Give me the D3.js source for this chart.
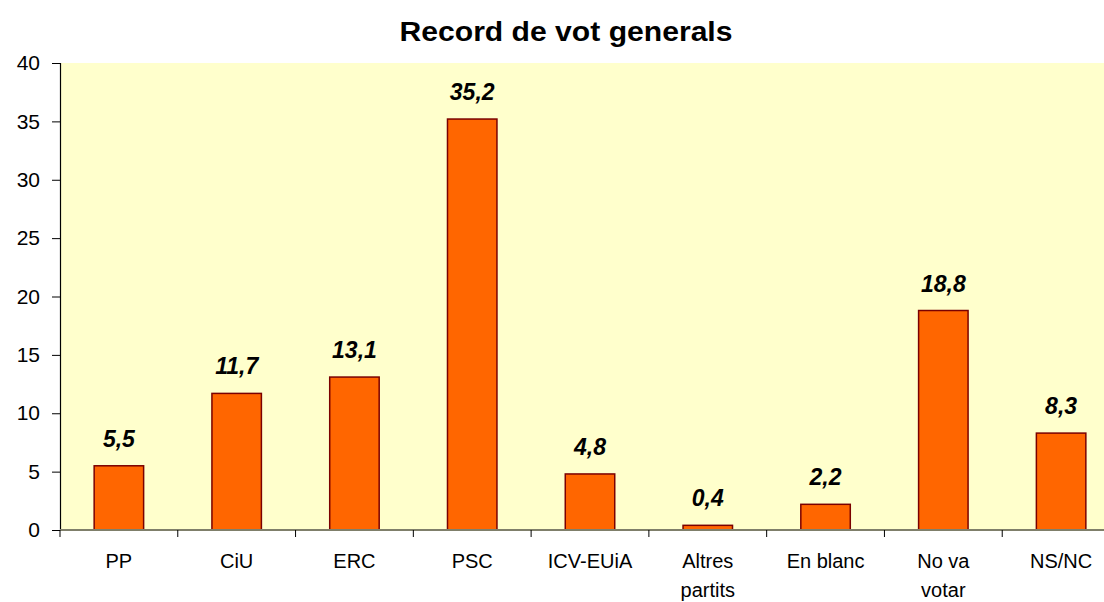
<!DOCTYPE html>
<html>
<head>
<meta charset="utf-8">
<script src="https://cdn.jsdelivr.net/npm/d3@7"></script>
<style>
	body { margin: 0; background: #fff; }
	text { font-family: Arial, "Liberation Sans", sans-serif; }
</style>
</head>
<body>
<script>
// chart values
let categories = ["PP", "CiU", "ERC", "PSC", "ICV-EUiA", "Altres partits", "En blanc", "No va votar", "NS/NC"];
let categoryLines = [["PP"], ["CiU"], ["ERC"], ["PSC"], ["ICV-EUiA"], ["Altres", "partits"], ["En blanc"], ["No va", "votar"], ["NS/NC"]];
let values = [5.5, 11.7, 13.1, 35.2, 4.8, 0.4, 2.2, 18.8, 8.3];
let yTicks = [0, 5, 10, 15, 20, 25, 30, 35, 40];
let title = "Record de vot generals";

let width = 1104;
let height = 602;
let plotLeft = 60, plotTop = 63, plotBottom = 530;
let plotRight = 1120; // plot area runs past the right edge of the picture

let svg = d3.select("body").append("svg")
	.attr("width", width)
	.attr("height", height);

let x = d3.scaleBand()
	.domain(categories)
	.range([plotLeft, plotRight])
	.paddingInner(0.58)
	.paddingOuter(0.29);

let y = d3.scaleLinear()
	.domain([0, 40])
	.range([plotBottom, plotTop]);

let caLocale = d3.formatLocale({decimal: ",", thousands: ".", grouping: [3], currency: ["", "€"]});
let fmt = caLocale.format(".1f");

// plot background
svg.append("rect")
	.attr("x", plotLeft)
	.attr("y", plotTop)
	.attr("width", plotRight - plotLeft)
	.attr("height", plotBottom - plotTop)
	.attr("fill", "#ffffcc");

// title
svg.append("text")
	.attr("x", 566)
	.attr("y", 41)
	.attr("text-anchor", "middle")
	.attr("font-size", 27)
	.attr("font-weight", "bold")
	.attr("textLength", 333)
	.attr("lengthAdjust", "spacingAndGlyphs")
	.text(title);

// bars
svg.selectAll(".bar")
	.data(values)
	.join("rect")
	.attr("class", "bar")
	.attr("x", (d, i) => x(categories[i]))
	.attr("y", d => y(d))
	.attr("width", x.bandwidth())
	.attr("height", d => y(0) - y(d))
	.attr("fill", "#ff6600")
	.attr("stroke", "#7a0000")
	.attr("stroke-width", 1.5);

// value labels
svg.selectAll(".vlabel")
	.data(values)
	.join("text")
	.attr("class", "vlabel")
	.attr("x", (d, i) => x(categories[i]) + x.bandwidth() / 2)
	.attr("y", d => y(d) - 19)
	.attr("text-anchor", "middle")
	.attr("font-size", 23)
	.attr("font-weight", "bold")
	.attr("font-style", "italic")
	.text(d => fmt(d));

// y axis
let yAxis = svg.append("g")
	.attr("transform", `translate(${plotLeft},0)`)
	.call(d3.axisLeft(y).tickValues(yTicks).tickSize(8).tickPadding(12));
yAxis.select(".domain").attr("stroke", "#000").attr("stroke-width", 1.2);
yAxis.selectAll(".tick line").attr("stroke", "#000");
yAxis.selectAll(".tick text")
	.attr("font-size", 21)
	.attr("font-family", "Arial, 'Liberation Sans', sans-serif")
	.attr("fill", "#000");

// x axis: line plus boundary ticks
let step = x.step();
let boundaries = d3.range(categories.length + 1).map(i => plotLeft + i * step);
svg.append("line")
	.attr("x1", plotLeft)
	.attr("x2", plotRight)
	.attr("y1", plotBottom)
	.attr("y2", plotBottom)
	.attr("stroke", "#7f7f6a")
	.attr("stroke-width", 2);
svg.selectAll(".xtick")
	.data(boundaries)
	.join("line")
	.attr("class", "xtick")
	.attr("x1", d => d)
	.attr("x2", d => d)
	.attr("y1", plotBottom)
	.attr("y2", plotBottom + 7)
	.attr("stroke", "#000");

// category labels
svg.selectAll(".xlabel")
	.data(categoryLines)
	.join("text")
	.attr("class", "xlabel")
	.attr("x", (d, i) => x(categories[i]) + x.bandwidth() / 2)
	.attr("y", 568)
	.attr("text-anchor", "middle")
	.attr("font-size", 20)
	.selectAll("tspan")
	.data(d => d)
	.join("tspan")
	.attr("x", function() { return d3.select(this.parentNode).attr("x"); })
	.attr("dy", (d, i) => i === 0 ? 0 : 29)
	.text(d => d);
</script>
</body>
</html>
